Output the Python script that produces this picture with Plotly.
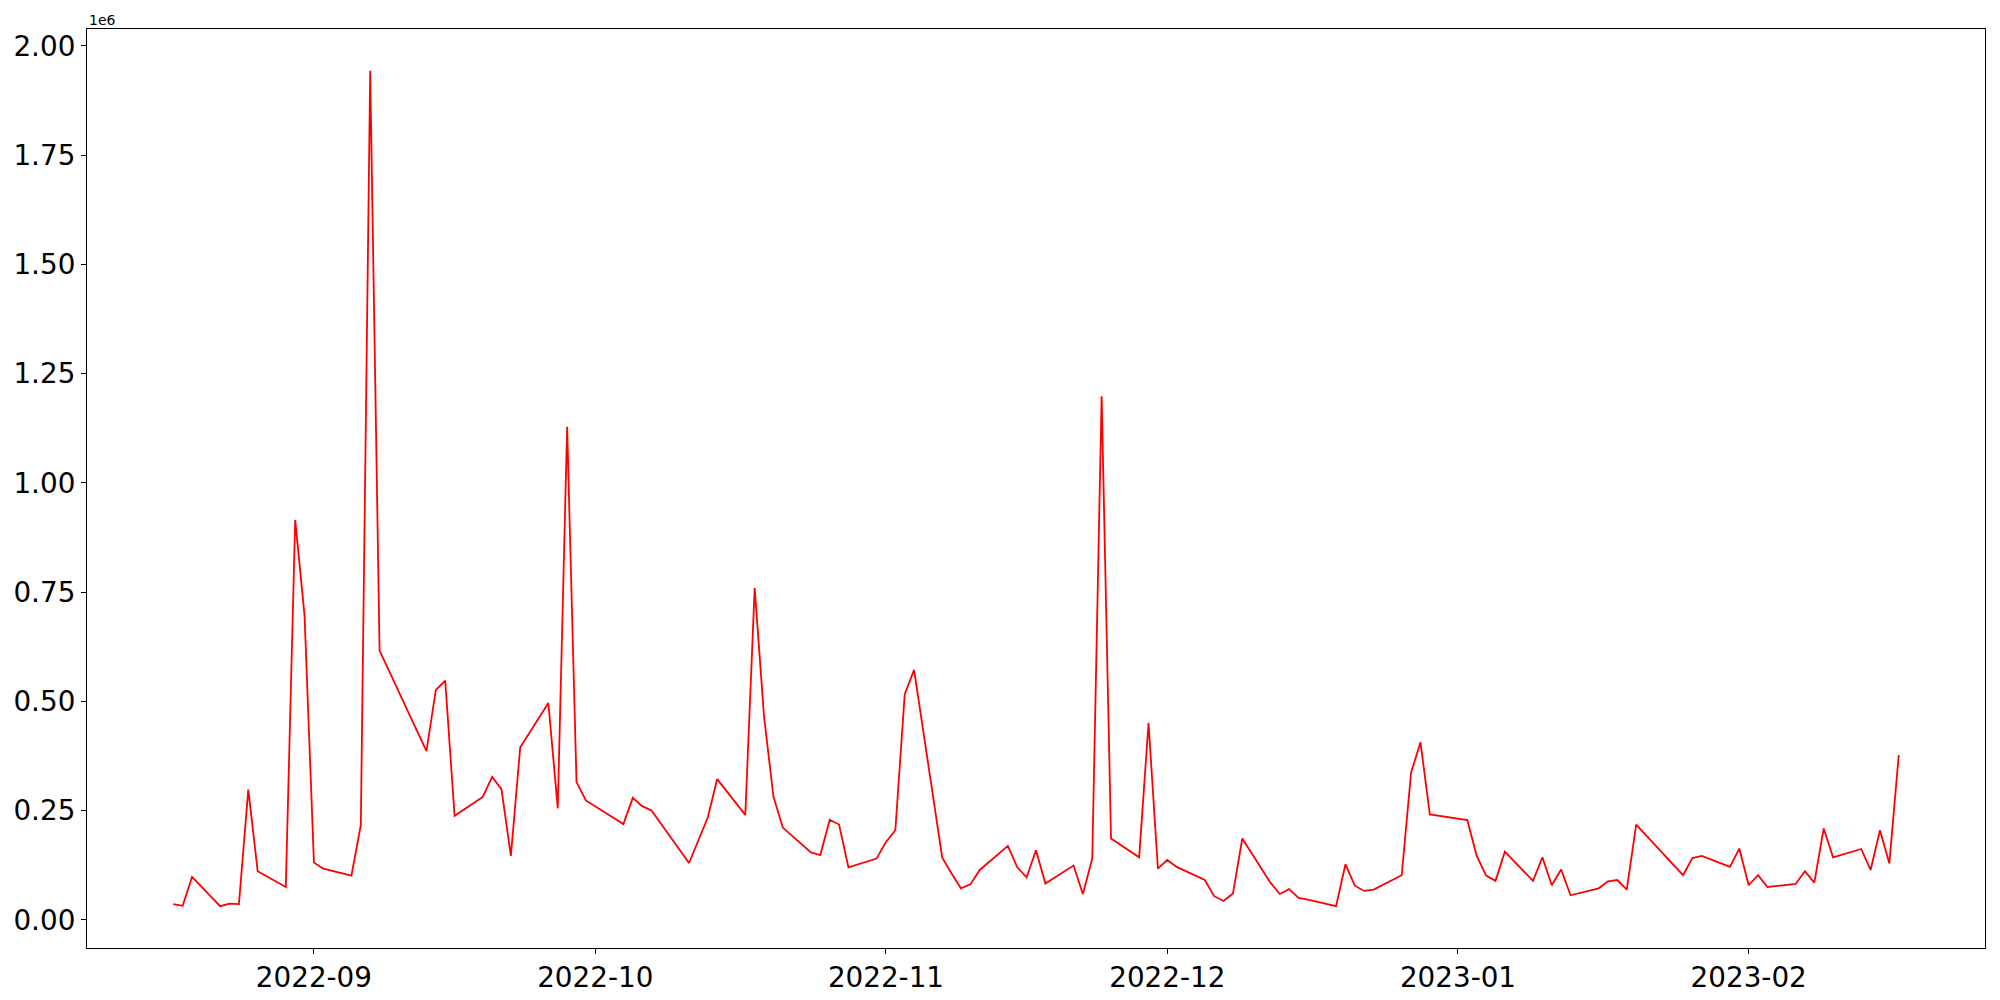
import pandas as pd
import plotly.graph_objects as go

dates = [
    "2022-08-17", "2022-08-18", "2022-08-19", "2022-08-22", "2022-08-23", "2022-08-24", "2022-08-25", "2022-08-26",
    "2022-08-29", "2022-08-30", "2022-08-31",
    "2022-09-01", "2022-09-02", "2022-09-05", "2022-09-06", "2022-09-07", "2022-09-08", "2022-09-13", "2022-09-14",
    "2022-09-15", "2022-09-16", "2022-09-19", "2022-09-20", "2022-09-21", "2022-09-22", "2022-09-23", "2022-09-26",
    "2022-09-27", "2022-09-28", "2022-09-29", "2022-09-30",
    "2022-10-04", "2022-10-05", "2022-10-06", "2022-10-07", "2022-10-11", "2022-10-13", "2022-10-14", "2022-10-17",
    "2022-10-18", "2022-10-19", "2022-10-20", "2022-10-21", "2022-10-24", "2022-10-25", "2022-10-26", "2022-10-27",
    "2022-10-28", "2022-10-31",
    "2022-11-01", "2022-11-02", "2022-11-03", "2022-11-04", "2022-11-07", "2022-11-08", "2022-11-09", "2022-11-10",
    "2022-11-11", "2022-11-14", "2022-11-15", "2022-11-16", "2022-11-17", "2022-11-18", "2022-11-21", "2022-11-22",
    "2022-11-23", "2022-11-24", "2022-11-25", "2022-11-28", "2022-11-29", "2022-11-30",
    "2022-12-01", "2022-12-02", "2022-12-05", "2022-12-06", "2022-12-07", "2022-12-08", "2022-12-09", "2022-12-12",
    "2022-12-13", "2022-12-14", "2022-12-15", "2022-12-16", "2022-12-19", "2022-12-20", "2022-12-21", "2022-12-22",
    "2022-12-23", "2022-12-26", "2022-12-27", "2022-12-28", "2022-12-29",
    "2023-01-02", "2023-01-03", "2023-01-04", "2023-01-05", "2023-01-06", "2023-01-09", "2023-01-10", "2023-01-11",
    "2023-01-12", "2023-01-13", "2023-01-16", "2023-01-17", "2023-01-18", "2023-01-19", "2023-01-20", "2023-01-25",
    "2023-01-26", "2023-01-27", "2023-01-30", "2023-01-31",
    "2023-02-01", "2023-02-02", "2023-02-03", "2023-02-06", "2023-02-07", "2023-02-08", "2023-02-09", "2023-02-10",
    "2023-02-13", "2023-02-14", "2023-02-15", "2023-02-16", "2023-02-17",
]

values = [
    36000, 32000, 98000, 31000, 37000, 36000, 298000, 111000, 75000, 915000, 696000,
    131000, 117000, 101000, 217000, 1943000, 616000, 386000, 526000, 547000, 238000, 281000, 327000, 299000,
    146000, 395000, 496000, 255000, 1128000, 315000, 273000,
    219000, 279000, 260000, 250000, 130000, 234000, 322000, 240000, 759000, 465000, 282000, 211000, 154000,
    148000, 229000, 218000, 120000, 140000,
    178000, 205000, 516000, 572000, 142000, 106000, 72000, 81000, 114000, 169000, 120000, 97000, 159000,
    83000, 124000, 59000, 140000, 1198000, 186000, 143000, 450000, 117000,
    137000, 121000, 91000, 54000, 43000, 60000, 186000, 85000, 59000, 70000, 50000, 46000, 31000, 127000,
    78000, 66000, 69000, 102000, 337000, 406000, 241000,
    228000, 146000, 101000, 89000, 156000, 89000, 143000, 79000, 115000, 56000, 72000, 88000, 91000, 69000,
    218000, 102000, 141000, 146000, 121000, 163000,
    79000, 102000, 75000, 82000, 111000, 85000, 209000, 143000, 162000, 114000, 205000, 129000, 377000,
]

y_tick_vals = [0, 250000, 500000, 750000, 1000000, 1250000, 1500000, 1750000, 2000000]
y_tick_text = ["0.00", "0.25", "0.50", "0.75", "1.00", "1.25", "1.50", "1.75", "2.00"]
x_tick_vals = ["2022-09-01", "2022-10-01", "2022-11-01", "2022-12-01", "2023-01-01", "2023-02-01"]
x_tick_text = ["2022-09", "2022-10", "2022-11", "2022-12", "2023-01", "2023-02"]

x = pd.to_datetime(dates)
span = x.max() - x.min()
x_range = [x.min() - 0.05 * span, x.max() + 0.05 * span]
vspan = max(values) - min(values)
y_range = [min(values) - 0.05 * vspan, max(values) + 0.05 * vspan]

fig = go.Figure()
fig.add_trace(go.Scatter(x=x, y=values, mode="lines",
                         line=dict(color="#ff0000", width=1.8), showlegend=False))

font_family = "DejaVu Sans"
axis_common = dict(showline=True, linecolor="black", linewidth=1.2, mirror=True,
                   ticks="outside", ticklen=5, tickwidth=1.1, tickcolor="black",
                   showgrid=False, zeroline=False,
                   tickfont=dict(family=font_family, size=27.8, color="black"))

fig.update_xaxes(range=x_range, tickvals=x_tick_vals, ticktext=x_tick_text, **axis_common)
fig.update_yaxes(range=y_range, tickvals=y_tick_vals, ticktext=y_tick_text, **axis_common)

fig.add_annotation(text="1e6", xref="paper", yref="paper", x=0, y=1,
                   xanchor="left", yanchor="bottom", yshift=-1, showarrow=False,
                   font=dict(family=font_family, size=14, color="black"))

fig.update_layout(width=2000, height=1000, plot_bgcolor="white", paper_bgcolor="white",
                  margin=dict(l=87, r=15, t=29, b=52, autoexpand=False),
                  font=dict(family=font_family))

fig.write_html("out.html", config={"displayModeBar": False})

# remove the browser's default page margin so the figure sits at the window origin
with open("out.html", "r", encoding="utf-8") as f:
    html = f.read()
html = html.replace("<head>", "<head><style>html,body{margin:0;padding:0;overflow:hidden;}</style>", 1)
with open("out.html", "w", encoding="utf-8") as f:
    f.write(html)
